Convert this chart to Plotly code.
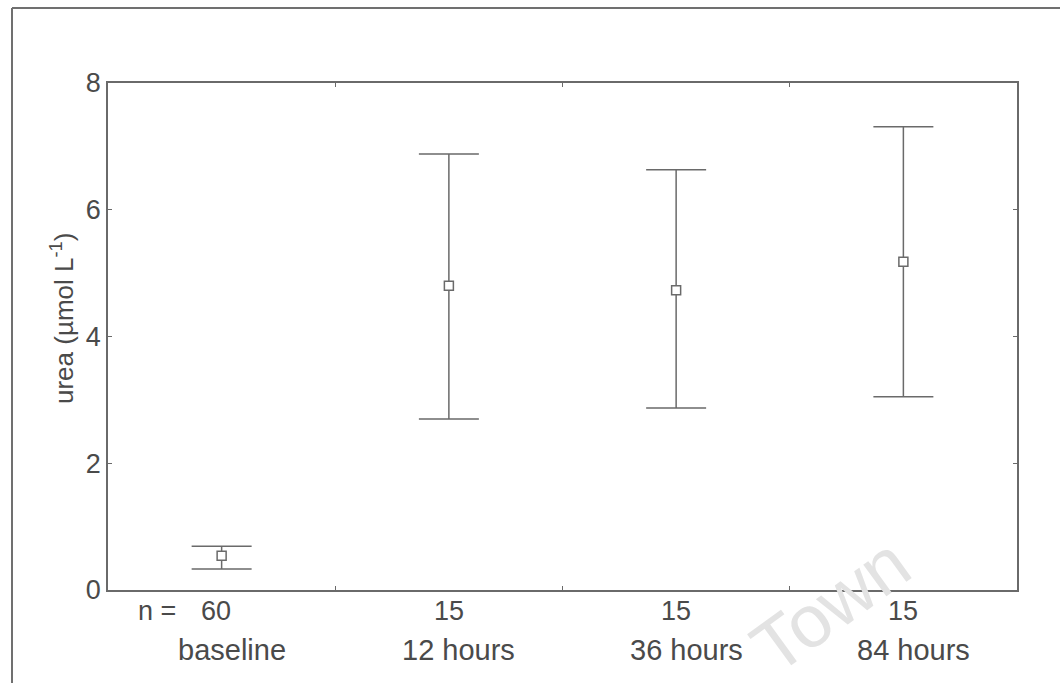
import plotly.graph_objects as go

# Urea concentration (mean with error range) per sampling time
groups = ["baseline", "12 hours", "36 hours", "84 hours"]
n_values = ["60", "15", "15", "15"]
means = [0.54, 4.80, 4.73, 5.18]
upper = [0.69, 6.88, 6.63, 7.31]
lower = [0.33, 2.70, 2.87, 3.05]

y_ticks = [0, 2, 4, 6, 8]

x_pos = list(range(len(groups)))
err_plus = [u - m for u, m in zip(upper, means)]
err_minus = [m - l for m, l in zip(means, lower)]

grey = "#6a6a6a"
text_grey = "#4a4a4a"
font_family = "Liberation Sans, Arial, sans-serif"

fig = go.Figure()
fig.add_trace(go.Scatter(
    x=x_pos, y=means, mode="markers",
    marker=dict(symbol="square", size=9, color="white",
                line=dict(color=grey, width=1.5)),
    error_y=dict(type="data", symmetric=False, array=err_plus,
                 arrayminus=err_minus, color=grey, thickness=1.5, width=30),
    showlegend=False, hoverinfo="skip",
))

W, H = 1060, 683
ml, mr, mt, mb = 108, 43, 83, 93
pw, ph = W - ml - mr, H - mt - mb

fig.update_layout(
    width=W, height=H,
    margin=dict(l=ml, r=mr, t=mt, b=mb),
    paper_bgcolor="white", plot_bgcolor="white",
    font=dict(family=font_family, color=text_grey),
    xaxis=dict(range=[-0.5, 3.5], tickvals=[0.5, 1.5, 2.5], showticklabels=False,
               ticks="inside", ticklen=4, tickcolor=grey, showgrid=False,
               zeroline=False, showline=True, linecolor=grey, linewidth=1.5,
               mirror="ticks"),
    yaxis=dict(range=[0, 8], tickvals=y_ticks, ticktext=[str(v) for v in y_ticks],
               ticks="inside", ticklen=4, tickcolor=grey, showgrid=False,
               zeroline=False, showline=True, linecolor=grey, linewidth=1.5,
               mirror="ticks", tickfont=dict(size=27, color=text_grey)),
)

# y-axis title, placed slightly above the plot's vertical centre
fig.add_annotation(x=(62 - ml) / pw, y=(H - mb - 319) / ph, xref="paper", yref="paper",
                   xanchor="center", yanchor="middle", textangle=-90,
                   text="urea (µmol L<sup>-1</sup>)", showarrow=False,
                   font=dict(size=26, color=text_grey))

# n-counts and group names under the axis
for i, (g, n) in enumerate(zip(groups, n_values)):
    fig.add_annotation(x=i, y=0, xref="x", yref="y", yanchor="top",
                       yshift=-4, xshift=-6 if i == 0 else 0, text=n,
                       showarrow=False, font=dict(size=27, color=text_grey))
    fig.add_annotation(x=i, y=0, xref="x", yref="y", yanchor="top",
                       yshift=-42, xshift=10, text=g,
                       showarrow=False, font=dict(size=29, color=text_grey))
fig.add_annotation(x=0, y=0, xref="x", yref="y", yanchor="top", xanchor="right",
                   yshift=-4, xshift=-44, text="n =", showarrow=False,
                   font=dict(size=27, color=text_grey))

# faint diagonal watermark
fig.add_annotation(x=(830 - ml) / pw, y=(H - mb - 605) / ph, xref="paper", yref="paper",
                   text="Town", xanchor="center", yanchor="middle",
                   showarrow=False, textangle=-36,
                   font=dict(size=74, color="#e3e3e3"))

# outer frame (top and left edges)
fx0 = (12 - ml) / pw
fx1 = (W - ml + 5) / pw
fy_top = (H - mb - 8) / ph
fy_bot = (H - mb - H - 5) / ph
fig.add_shape(type="line", xref="paper", yref="paper", x0=fx0, x1=fx1,
              y0=fy_top, y1=fy_top, line=dict(color="#707070", width=2))
fig.add_shape(type="line", xref="paper", yref="paper", x0=fx0, x1=fx0,
              y0=fy_bot, y1=fy_top, line=dict(color="#707070", width=2))

fig.write_html("out.html")
